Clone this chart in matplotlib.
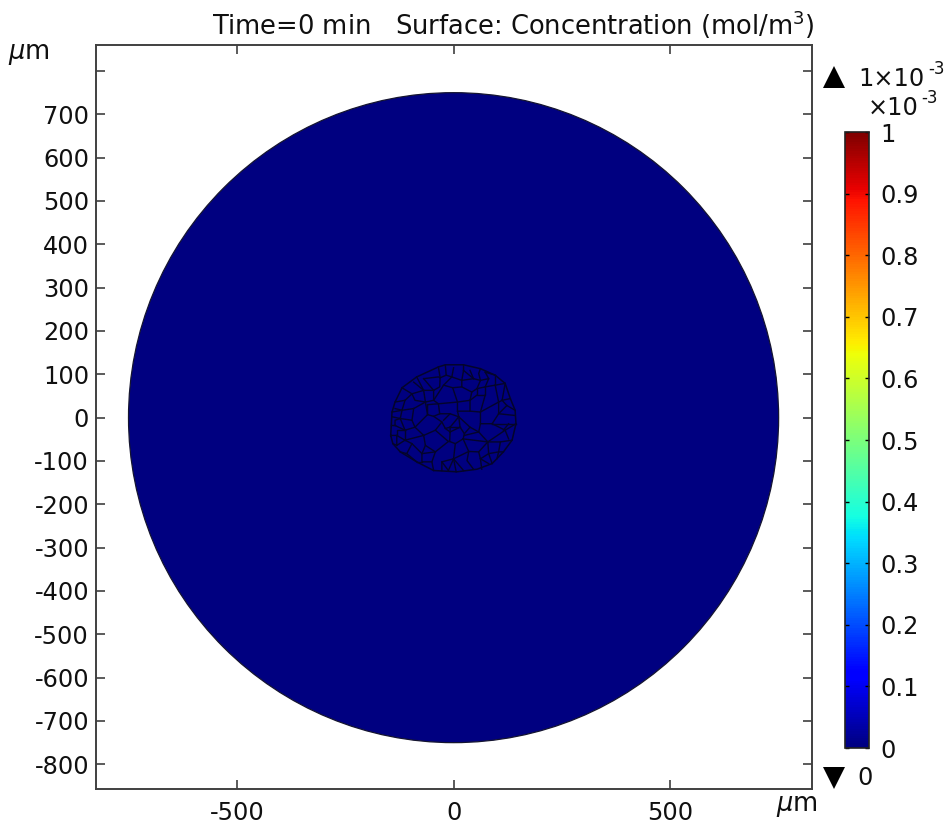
import matplotlib
matplotlib.use("Agg")
import matplotlib.pyplot as plt
import numpy as np
from matplotlib.cm import ScalarMappable
from matplotlib.colors import Normalize
from matplotlib.lines import Line2D
from matplotlib.patches import Circle

W, H = 947, 826
DOMAIN_RADIUS = 750  # um
CONC = 0.0
CONC_MIN, CONC_MAX = 0, 1

X_TICKS = [-500, 0, 500]
Y_TICKS = list(range(-800, 900, 100))
Y_LABELS = [str(v) for v in Y_TICKS[:-1]] + [""]  # 800 has a tick but no label
CB_TICKS = [0, 0.1, 0.2, 0.3, 0.4, 0.5, 0.6, 0.7, 0.8, 0.9, 1]
CB_LABELS = ["0", "0.1", "0.2", "0.3", "0.4", "0.5", "0.6", "0.7", "0.8", "0.9", "1"]

# cell cluster in the middle (um)
CLUSTER_OUTLINE = [
    (-145, -41), (-142, 13), (-135, 36), (-119, 69), (-85, 94), (-35, 117), (-19, 122),
    (23, 122), (62, 113), (96, 98), (119, 79), (131, 44), (142, 17), (144, -14),
    (135, -52), (115, -79), (89, -106), (54, -119), (8, -125), (-46, -122), (-85, -102),
    (-123, -79), (-140, -60), (-145, -41),
]
CELL_WALLS = [
    [(-119, 69), (-96, 55), (-112, 40), (-135, 36)],
    [(-85, 94), (-69, 63), (-96, 55)],
    [(-69, 63), (-46, 63), (-32, 71), (-31, 92), (-35, 117)],
    [(-19, 122), (-17, 98), (-31, 92)],
    [(-17, 98), (-4, 94), (19, 86), (23, 109), (23, 122)],
    [(-4, 94), (0, 115)],
    [(19, 86), (19, 71), (-2, 69), (-23, 75), (-46, 40), (-35, 32)],
    [(-4, 94), (-23, 75)],
    [(-46, 63), (-46, 40), (-65, 36), (-69, 63)],
    [(-65, 36), (-92, 21), (-119, 17), (-142, 13)],
    [(-96, 55), (-89, 40), (-65, 36)],
    [(-112, 40), (-119, 17)],
    [(-60, 7), (-65, 36)],
    [(-60, 30), (-35, 32), (-32, 9), (-46, 3), (-60, 7), (-60, 30)],
    [(-35, 32), (9, 36), (38, 40), (42, 59), (19, 71)],
    [(-2, 69), (9, 36), (9, 15)],
    [(38, 40), (38, 15), (9, 15), (12, 2), (15, -22)],
    [(42, 59), (54, 67), (62, 86), (58, 102), (62, 113)],
    [(23, 109), (46, 90), (62, 86)],
    [(19, 86), (46, 90)],
    [(54, 67), (73, 71), (96, 75), (119, 79)],
    [(96, 75), (96, 98)],
    [(73, 71), (81, 90), (73, 105)],
    [(62, 86), (81, 90)],
    [(73, 71), (73, 52), (54, 52), (54, 67)],
    [(54, 52), (38, 40)],
    [(73, 52), (62, 13), (38, 15)],
    [(96, 75), (104, 36), (62, 13)],
    [(104, 36), (112, 40), (119, 79)],
    [(112, 40), (131, 44)],
    [(104, 36), (104, 9), (142, 5)],
    [(104, 9), (89, -14), (62, -14), (62, 13)],
    [(89, -14), (144, -14)],
    [(62, -14), (58, -33), (25, -41)],
    [(12, 2), (-8, -22)],
    [(12, 2), (38, -22), (58, -33)],
    [(38, -22), (25, -37)],
    [(-8, -22), (-8, -33), (15, -22), (25, -37), (22, -49), (4, -60), (-9, -55), (-8, -33)],
    [(15, -22), (-8, -22)],
    [(-32, 9), (-8, 9), (12, 2)],
    [(-46, 3), (-27, -10), (-19, -25), (-8, -22)],
    [(-8, 9), (-23, -6)],
    [(-19, -25), (-8, -33)],
    [(-60, 7), (-89, -22), (-112, -29), (-135, -18)],
    [(-27, -10), (-42, -29), (-69, -41), (-112, -52), (-131, -41), (-145, -41)],
    [(-42, -29), (-12, -55), (-9, -55)],
    [(-69, -41), (-65, -64), (-42, -79)],
    [(-12, -55), (-42, -79), (-50, -102), (-46, -122)],
    [(-50, -102), (-73, -102), (-73, -83), (-96, -60), (-112, -52)],
    [(-73, -83), (-42, -79)],
    [(-73, -102), (-85, -102)],
    [(-96, -60), (-108, -83), (-123, -79)],
    [(-108, -83), (-85, -102)],
    [(-131, -41), (-131, -64), (-112, -52)],
    [(-131, -64), (-140, -60)],
    [(4, -60), (0, -95), (-27, -102), (-27, -122)],
    [(0, -95), (-12, -122)],
    [(0, -95), (6, -125)],
    [(0, -95), (23, -122)],
    [(0, -95), (35, -78), (31, -99), (46, -119)],
    [(35, -78), (58, -79), (62, -95), (81, -106)],
    [(58, -79), (79, -56), (58, -33)],
    [(22, -49), (79, -56)],
    [(35, -78), (22, -49)],
    [(79, -56), (119, -29), (144, -14)],
    [(79, -56), (81, -83), (89, -106)],
    [(81, -83), (104, -79), (115, -79)],
    [(104, -79), (108, -56), (79, -56)],
    [(108, -56), (135, -52)],
    [(119, -29), (127, -49)],
    [(-119, 17), (-123, -2), (-135, -6), (-135, -18)],
    [(-123, -2), (-96, -6), (-89, -22)],
    [(-92, 21), (-96, -6)],
    [(-123, -2), (-112, -29)],
    # small cells along the rim
    [(-92, 82), (-69, 63)],
    [(-69, 90), (-46, 63)],
    [(-69, 90), (-35, 94), (-31, 92)],
    [(123, 28), (142, 17)],
    [(104, 9), (123, 28)],
    [(-135, 21), (-119, 17)],
    [(-142, 2), (-123, -2)],
    [(-135, -18), (-145, -18)],
    [(-131, -41), (-131, -29), (-112, -29)],
    [(104, -79), (100, -95)],
    [(38, 109), (46, 90)],
    [(73, 105), (96, 98)],
    [(-89, -22), (-69, -41)],
    [(-112, -29), (-112, -52)],
    [(89, -14), (119, -29)],
    [(115, -29), (127, -14)],
    [(-27, -102), (-12, -122)],
    [(-65, -64), (-73, -83)],
    [(62, -95), (65, -119)],
    [(81, -83), (62, -95)],
    [(123, 28), (112, 40)],
]

plt.rcParams.update({"font.family": "DejaVu Sans", "font.size": 17.3, "axes.unicode_minus": False,
                     "mathtext.default": "regular"})
INK, SPINE = "#101010", "#404040"


def px_box(left, top, right, bottom):
    return [left / W, 1 - bottom / H, (right - left) / W, (bottom - top) / H]


def main() -> None:
    fig = plt.figure(figsize=(W / 100, H / 100), dpi=100)
    ax = fig.add_axes(px_box(96, 45, 812, 789))
    cmap = plt.get_cmap("jet")
    norm = Normalize(CONC_MIN, CONC_MAX)

    ax.add_patch(Circle((0, 0), DOMAIN_RADIUS, facecolor=cmap(norm(CONC)), edgecolor="#151530", lw=0.9))
    outline = np.array(CLUSTER_OUTLINE)
    ax.plot(outline[:, 0], outline[:, 1], color="#04042a", lw=1.1)
    for wall in CELL_WALLS:
        pts = np.array(wall)
        ax.plot(pts[:, 0], pts[:, 1], color="#04042a", lw=1.0)

    ax.set_xlim(-825, 827)
    ax.set_ylim(-857, 860)
    ax.set_xticks(X_TICKS)
    ax.set_yticks(Y_TICKS)
    ax.set_yticklabels(Y_LABELS)
    ax.tick_params(direction="in", length=6.5, width=1.2, color=SPINE, labelcolor=INK, pad=5,
                   top=True, right=True)
    ax.tick_params(axis="x", pad=9)
    for spine in ax.spines.values():
        spine.set_color(SPINE)
        spine.set_linewidth(1.4)

    fig.text(513 / W, 1 - 25 / H, "Time=0 min   Surface: Concentration (mol/m$^3$)",
             ha="center", va="center", color=INK, fontsize=18.5)
    fig.text(8 / W, 1 - 54 / H, r"$\mathit{\mu}$m", ha="left", va="center", color=INK, fontsize=18.5)
    fig.text(776 / W, 1 - 806 / H, r"$\mathit{\mu}$m", ha="left", va="center", color=INK, fontsize=18.5)

    cax = fig.add_axes(px_box(845, 132, 869, 748))
    cb = fig.colorbar(ScalarMappable(norm=norm, cmap=cmap), cax=cax)
    cb.set_ticks(CB_TICKS, labels=CB_LABELS)
    cax.tick_params(direction="in", length=3, width=1, left=True, right=True, color="black", pad=8,
                    labelcolor=INK)
    cb.outline.set_linewidth(1.2)
    cb.outline.set_edgecolor("#222222")

    fig.add_artist(Line2D([834 / W], [1 - 77 / H], marker="^", ms=16, color="black", mew=0, transform=fig.transFigure))
    fig.add_artist(Line2D([834 / W], [1 - 778 / H], marker="v", ms=16, color="black", mew=0, transform=fig.transFigure))
    # exponents set apart: mathtext makes them too small and with a long minus
    fig.text(858 / W, 1 - 79 / H, "1×10", ha="left", va="center", color=INK)
    fig.text(928 / W, 1 - 69 / H, "-3", ha="left", va="center", color=INK, fontsize=12)
    fig.text(868 / W, 1 - 108 / H, "×10", ha="left", va="center", color=INK)
    fig.text(921 / W, 1 - 98 / H, "-3", ha="left", va="center", color=INK, fontsize=12)
    fig.text(857 / W, 1 - 778 / H, "0", ha="left", va="center", color=INK)

    fig.savefig("out.png", dpi=100)


if __name__ == "__main__":
    main()
